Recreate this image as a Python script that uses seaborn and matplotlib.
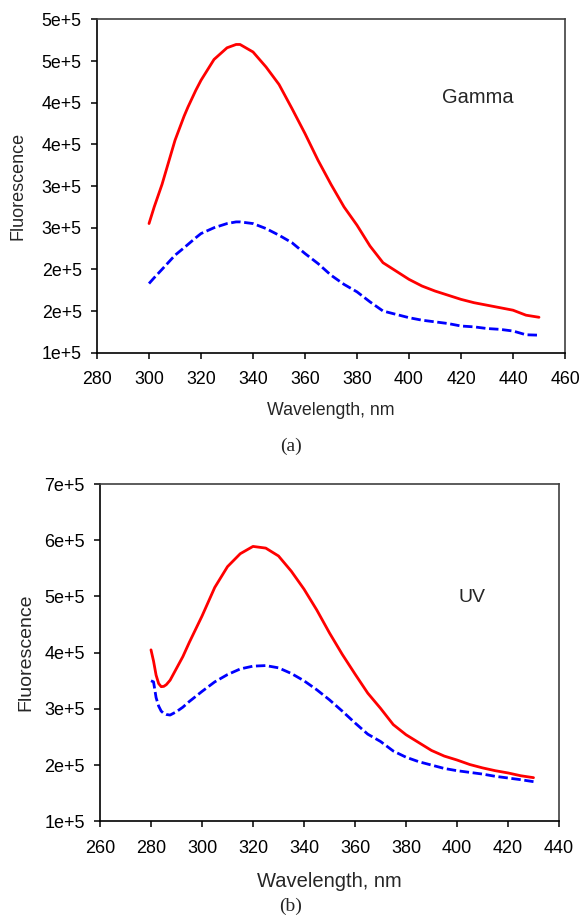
import math
import matplotlib
matplotlib.use('Agg')
import matplotlib.pyplot as plt
from matplotlib.ticker import FuncFormatter, MultipleLocator
import seaborn as sns

# Gamma, (a)
gamma_wl = [300, 302, 305, 310, 313.5, 315, 318, 320, 325, 330, 333.5, 335, 340, 345,
            350, 355, 360, 365, 370, 375, 380, 385, 390, 395, 400, 405, 410, 415,
            420, 425, 430, 435, 440, 445, 450]
gamma_red = [2.55, 2.75, 3.02, 3.55, 3.84, 3.95, 4.15, 4.27, 4.52, 4.66, 4.70, 4.70,
             4.61, 4.43, 4.22, 3.93, 3.63, 3.31, 3.02, 2.75, 2.53, 2.28, 2.08, 1.98,
             1.88, 1.80, 1.74, 1.69, 1.64, 1.60, 1.57, 1.54, 1.51, 1.45, 1.425]
gamma_blue = [1.83, 1.90, 2.00, 2.17, 2.26, 2.30, 2.38, 2.43, 2.50, 2.55, 2.57, 2.57,
              2.55, 2.49, 2.41, 2.32, 2.19, 2.07, 1.93, 1.82, 1.73, 1.61, 1.50, 1.46,
              1.42, 1.39, 1.37, 1.35, 1.32, 1.31, 1.29, 1.28, 1.26, 1.215, 1.21]

# UV, (b)
uv_wl = [280, 281, 282, 283, 284, 285, 286, 287.5, 290, 292.5, 295, 300, 305, 310, 315,
         320, 325, 330, 335, 340, 345, 350, 355, 360, 365, 370, 375, 380, 385, 390,
         395, 400, 405, 410, 415, 420, 425, 430]
uv_red = [4.05, 3.85, 3.60, 3.45, 3.395, 3.40, 3.43, 3.51, 3.72, 3.93, 4.18, 4.65, 5.16,
          5.53, 5.76, 5.89, 5.86, 5.72, 5.45, 5.13, 4.76, 4.35, 3.97, 3.62, 3.28, 3.01,
          2.72, 2.54, 2.40, 2.26, 2.16, 2.09, 2.01, 1.95, 1.90, 1.86, 1.81, 1.776]
uv_blue = [3.50, 3.48, 3.20, 3.05, 2.96, 2.92, 2.90, 2.89, 2.95, 3.03, 3.13, 3.31, 3.48,
           3.61, 3.71, 3.76, 3.77, 3.73, 3.63, 3.50, 3.34, 3.16, 2.96, 2.75, 2.55, 2.42,
           2.25, 2.14, 2.06, 2.00, 1.94, 1.90, 1.87, 1.84, 1.80, 1.77, 1.74, 1.705]

sns.set_style('ticks')
plt.rcParams['font.family'] = ['Liberation Sans', 'DejaVu Sans']


def excel_fmt(v, pos):
    # Excel rounds the mantissa half up: 1.5e5 -> 2e+5
    m = math.floor(v / 1e5 + 0.5)
    return f'{m}e+5'


def style_axes(ax, fs):
    for s in ['left', 'bottom']:
        ax.spines[s].set_color('black')
        ax.spines[s].set_linewidth(1.2)
    for s in ['top', 'right']:
        ax.spines[s].set_visible(True)
        ax.spines[s].set_color('#404040')
        ax.spines[s].set_linewidth(1.2)
    ax.tick_params(direction='out', length=4, width=1.1, colors='black',
                   labelsize=fs, pad=7)
    ax.tick_params(axis='x', pad=9.5)
    ax.yaxis.set_major_formatter(FuncFormatter(excel_fmt))
    ax.grid(False)


fig = plt.figure(figsize=(5.82, 9.23), dpi=100)

ax1 = fig.add_axes([0.1667, 0.6179, 0.8041, 0.3610])
sns.lineplot(x=gamma_wl, y=[v * 1e5 for v in gamma_red], ax=ax1, color='#ff0000', lw=2)
sns.lineplot(x=gamma_wl, y=[v * 1e5 for v in gamma_blue], ax=ax1, color='#0000ff', lw=2,
             linestyle=(0, (3.4, 1.3)))
ax1.set_xlim(280, 460)
ax1.set_ylim(1e5, 5e5)
ax1.xaxis.set_major_locator(MultipleLocator(20))
ax1.yaxis.set_major_locator(MultipleLocator(0.5e5))
style_axes(ax1, 12.8)
ax1.set_xlabel('Wavelength, nm', fontsize=12.8)
ax1.set_ylabel('Fluorescence', fontsize=13)
ax1.xaxis.set_label_coords(0.5, -0.148)
ax1.yaxis.set_label_coords(-0.151, 0.5)
ax1.text(426.5, 4.06e5, 'Gamma', fontsize=14.5, ha='center', va='center')

ax2 = fig.add_axes([0.1718, 0.1102, 0.7887, 0.3654])
sns.lineplot(x=uv_wl, y=[v * 1e5 for v in uv_red], ax=ax2, color='#ff0000', lw=2)
sns.lineplot(x=uv_wl, y=[v * 1e5 for v in uv_blue], ax=ax2, color='#0000ff', lw=2,
             linestyle=(0, (3.4, 1.3)))
ax2.set_xlim(260, 440)
ax2.set_ylim(1e5, 7e5)
ax2.xaxis.set_major_locator(MultipleLocator(20))
ax2.yaxis.set_major_locator(MultipleLocator(1e5))
style_axes(ax2, 13)
ax2.set_xlabel('Wavelength, nm', fontsize=14.5)
ax2.set_ylabel('Fluorescence', fontsize=14)
ax2.xaxis.set_label_coords(0.5, -0.15)
ax2.yaxis.set_label_coords(-0.142, 0.5)
ax2.text(405.9, 4.98e5, 'UV', fontsize=14, ha='center', va='center')

fig.text(291 / 582, 1 - 446 / 923, '(a)', fontsize=14, ha='center', va='center',
         family=['Liberation Serif', 'DejaVu Serif'])
fig.text(291 / 582, 1 - 906 / 923, '(b)', fontsize=14, ha='center', va='center',
         family=['Liberation Serif', 'DejaVu Serif'])

fig.savefig('out.png', dpi=100)
